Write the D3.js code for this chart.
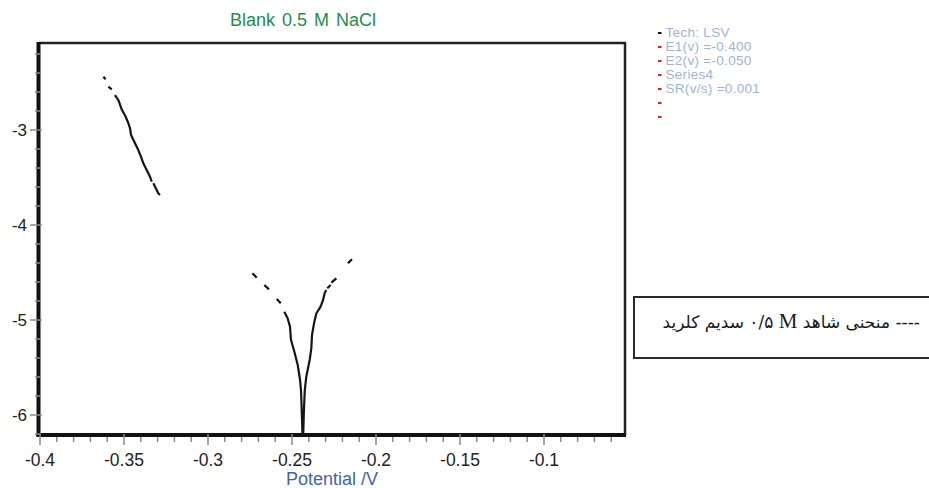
<!DOCTYPE html>
<html>
<head>
<meta charset="utf-8">
<script src="https://cdn.jsdelivr.net/npm/d3@7.9.0/dist/d3.min.js"></script>
<style>
  html, body { margin: 0; padding: 0; background: #fff; }
  svg { display: block; font-family: Arial, "Liberation Sans", sans-serif; }
</style>
</head>
<body>
<svg id="chart" width="929" height="488"></svg>
<script>
// Tafel data (null = gap between plotted pieces)
const potential = [
  -0.3623, -0.3609, null,
  -0.3593, -0.3573, null,
  -0.3554, -0.3534, -0.3530, -0.3514, -0.3490, -0.3474, -0.3464, -0.3458, -0.3439,
  -0.3415, -0.3399, -0.3385, -0.3365, -0.3345, -0.3335, null,
  -0.3325, -0.3296, -0.3286, null,
  -0.2736, -0.2710, null,
  -0.2665, -0.2637, null,
  -0.2591, -0.2567, null,
  -0.2546, -0.2526, -0.2512, -0.2506, -0.2486, -0.2466, -0.2452, -0.2446, -0.2442,
  -0.2438, -0.2436, -0.2433, -0.2429, -0.2424, -0.2415, -0.2395, -0.2385, -0.2381,
  -0.2369, -0.2355, -0.2335, -0.2326, -0.2315, -0.2305, -0.2296, null,
  -0.2290, -0.2270, null,
  -0.2266, -0.2236, null,
  -0.2167, -0.2143
];
const logCurrent = [
  -2.439, -2.466, null,
  -2.544, -2.572, null,
  -2.632, -2.684, -2.702, -2.782, -2.860, -2.929, -2.982, -3.053, -3.123,
  -3.211, -3.281, -3.351, -3.421, -3.492, -3.544, null,
  -3.561, -3.666, -3.684, null,
  -4.508, -4.555, null,
  -4.632, -4.677, null,
  -4.779, -4.824, null,
  -4.913, -4.982, -5.071, -5.211, -5.334, -5.474, -5.632, -5.755, -5.965,
  -6.180, -6.350, -6.180, -5.947, -5.737, -5.597, -5.421, -5.298, -5.158,
  -5.035, -4.929, -4.876, -4.842, -4.789, -4.713, -4.684, null,
  -4.666, -4.632, null,
  -4.607, -4.561, null,
  -4.403, -4.361
];

const xMajorTicks = [-0.4, -0.35, -0.3, -0.25, -0.2, -0.15, -0.1];
const xTickLabels = ["-0.4", "-0.35", "-0.3", "-0.25", "-0.2", "-0.15", "-0.1"];
const yMajorTicks = [-3, -4, -5, -6];
const yTickLabels = ["-3", "-4", "-5", "-6"];

const legendLabels = ["Tech: LSV", "E1(v) =-0.400", "E2(v) =-0.050", "Series4", "SR(v/s) =0.001", "", ""];
const legendMarkColors = ["#111", "#e41a1a", "#e41a1a", "#e41a1a", "#e41a1a", "#e41a1a", "#e41a1a"];

const title = "Blank 0.5 M NaCl";
const xTitle = "Potential /V";

(function () {
  const svg = d3.select("#chart");
  const mLeft = 40, mRight = 625, mTop = 43, mBottom = 435;

  const x = d3.scaleLinear().domain([-0.4, -0.0518]).range([mLeft, mRight]);
  const y = d3.scaleLinear().domain([-6.2105, -2.084]).range([mBottom, mTop]);

  // minor ticks every 0.01 V / 0.2 decade
  const xMinor = d3.range(-0.4, -0.0515, 0.01).filter(v => !xMajorTicks.some(m => Math.abs(m - v) < 1e-6));
  const yMinor = d3.range(-6.2, -2.09, 0.2).filter(v => !yMajorTicks.some(m => Math.abs(m - v) < 1e-6));

  // title
  svg.append("text")
    .attr("x", 303).attr("y", 26)
    .attr("text-anchor", "middle")
    .attr("font-size", 18)
    .attr("word-spacing", 2)
    .attr("fill", "#1b8f4b")
    .text(title);

  // frame: thin top/right, heavy left/bottom
  svg.append("path")
    .attr("d", `M${mLeft - 1},${mTop} H${mRight} V${mBottom}`)
    .attr("fill", "none").attr("stroke", "#222").attr("stroke-width", 2.5);

  svg.append("clipPath").attr("id", "plotclip")
    .append("rect").attr("x", mLeft).attr("y", mTop)
    .attr("width", mRight - mLeft).attr("height", mBottom - mTop - 1);

  // curve
  const pts = potential.map((v, i) => [v, logCurrent[i]]);
  const line = d3.line()
    .defined(d => d[0] != null && d[1] != null)
    .x(d => x(d[0]))
    .y(d => y(d[1]));

  svg.append("path")
    .datum(pts)
    .attr("clip-path", "url(#plotclip)")
    .attr("d", line)
    .attr("fill", "none")
    .attr("stroke", "#151515")
    .attr("stroke-width", 2.2)
    .attr("stroke-linejoin", "round");

  // axis lines
  svg.append("line")
    .attr("x1", mLeft - 1.5).attr("x2", mLeft - 1.5).attr("y1", mTop - 1).attr("y2", mBottom + 2)
    .attr("stroke", "#111").attr("stroke-width", 4);
  svg.append("line")
    .attr("x1", mLeft - 3.5).attr("x2", mRight + 1).attr("y1", mBottom).attr("y2", mBottom)
    .attr("stroke", "#111").attr("stroke-width", 4);

  // ticks
  const tickColor = "#8a8a8a";
  svg.selectAll(".xmaj").data(xMajorTicks).join("line").attr("class", "xmaj")
    .attr("x1", d => x(d)).attr("x2", d => x(d))
    .attr("y1", mBottom - 1).attr("y2", mBottom + 10)
    .attr("stroke", tickColor).attr("stroke-width", 1.5);
  svg.selectAll(".xmin").data(xMinor).join("line").attr("class", "xmin")
    .attr("x1", d => x(d)).attr("x2", d => x(d))
    .attr("y1", mBottom + 2).attr("y2", mBottom + 7)
    .attr("stroke", tickColor).attr("stroke-width", 1.5);
  svg.selectAll(".ymaj").data(yMajorTicks).join("line").attr("class", "ymaj")
    .attr("x1", 30).attr("x2", mLeft + 2)
    .attr("y1", d => y(d)).attr("y2", d => y(d))
    .attr("stroke", tickColor).attr("stroke-width", 1.5);
  svg.selectAll(".ymin").data(yMinor).join("line").attr("class", "ymin")
    .attr("x1", 35).attr("x2", mLeft + 1)
    .attr("y1", d => y(d)).attr("y2", d => y(d))
    .attr("stroke", tickColor).attr("stroke-width", 1.5);

  // tick labels
  svg.selectAll(".xlab").data(xMajorTicks).join("text").attr("class", "xlab")
    .attr("x", d => x(d)).attr("y", 466)
    .attr("text-anchor", "middle")
    .attr("font-size", 17.5)
    .attr("fill", "#222")
    .text((d, i) => xTickLabels[i]);
  svg.selectAll(".ylab").data(yMajorTicks).join("text").attr("class", "ylab")
    .attr("x", 27).attr("y", d => y(d))
    .attr("dy", "0.36em")
    .attr("text-anchor", "end")
    .attr("font-size", 17)
    .attr("fill", "#222")
    .text((d, i) => yTickLabels[i]);

  // axis title
  svg.append("text")
    .attr("x", 332).attr("y", 485)
    .attr("text-anchor", "middle")
    .attr("font-size", 18)
    .attr("fill", "#3e63b5")
    .text(xTitle);

  // info legend
  const leg = svg.append("g").attr("transform", "translate(658,37)");
  leg.selectAll("rect").data(legendLabels).join("rect")
    .attr("x", 0).attr("y", (d, i) => i * 14 - 5)
    .attr("width", 3.5).attr("height", 2)
    .attr("fill", (d, i) => legendMarkColors[i]);
  leg.selectAll("text").data(legendLabels).join("text")
    .attr("x", 7.5).attr("y", (d, i) => i * 14)
    .attr("font-size", 13.5)
    .attr("letter-spacing", 0.3)
    .attr("fill", "#9db4d6")
    .text(d => d);

  // Persian caption box
  svg.append("path")
    .attr("d", "M940,297 H634 V358 H940")
    .attr("fill", "none").attr("stroke", "#2a2a2a").attr("stroke-width", 2);

  const cap = svg.append("text")
    .attr("x", 920).attr("y", 328)
    .attr("direction", "rtl")
    .attr("text-anchor", "start")
    .attr("font-family", "'DejaVu Sans', sans-serif")
    .attr("font-size", 17)
    .attr("fill", "#1a1a1a");
  cap.append("tspan").text("---- منحنی شاهد ");
  cap.append("tspan").attr("font-family", "'Liberation Serif', serif").attr("font-size", 21).text("M\u200F");
  cap.append("tspan").text(" ۰/۵ سدیم کلرید");
})();
</script>
</body>
</html>
